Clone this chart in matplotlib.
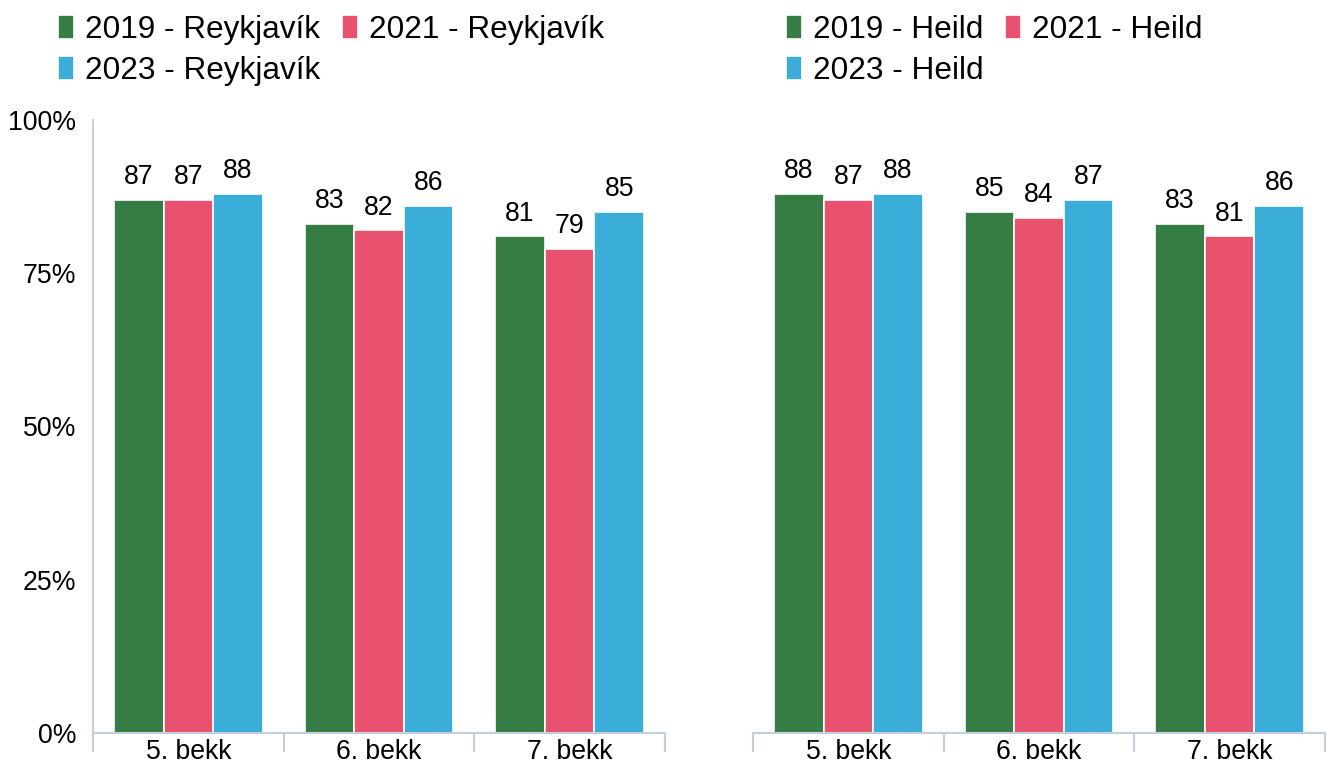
import numpy as np
import matplotlib
matplotlib.use('Agg')
import matplotlib.pyplot as plt

plt.rcParams['font.family'] = ['Liberation Sans', 'DejaVu Sans']

# data
categories = ['5. bekk', '6. bekk', '7. bekk']
years = ['2019', '2021', '2023']
reykjavik = {
    '2019': [87, 83, 81],
    '2021': [87, 82, 79],
    '2023': [88, 86, 85],
}
heild = {
    '2019': [88, 85, 83],
    '2021': [87, 84, 81],
    '2023': [88, 87, 86],
}
colors = {'2019': '#367c45', '2021': '#e9526f', '2023': '#3aaed8'}
spine_col = '#c3cfdd'

fig = plt.figure(figsize=(13.35, 7.65), dpi=100)
ax1 = fig.add_axes([93 / 1335, 1 - 733 / 765, 572 / 1335, 613 / 765])
ax2 = fig.add_axes([753 / 1335, 1 - 733 / 765, 572 / 1335, 613 / 765])

x = np.arange(len(categories))
bw = 0.26


def draw(ax, data, region, legend_x):
    handles = []
    for i, yr in enumerate(years):
        bars = ax.bar(x + (i - 1) * bw, data[yr], bw, color=colors[yr],
                      edgecolor='white', linewidth=1.2,
                      label=f'{yr} - {region}')
        ax.bar_label(bars, padding=7, fontsize=19.2)
        handles.append(bars)
    ax.set_xlim(-0.5, len(categories) - 0.5)
    ax.set_ylim(0, 100)
    ax.set_xticks(x)
    ax.set_xticklabels(categories, fontsize=19.2)
    ax.set_xticks(np.arange(len(categories) + 1) - 0.5, minor=True)
    ax.tick_params(axis='x', which='major', length=0, pad=4)
    ax.tick_params(axis='x', which='minor', length=14, width=1.5,
                   color=spine_col, direction='out')
    for s in ['top', 'right']:
        ax.spines[s].set_visible(False)
    ax.spines['bottom'].set_color(spine_col)
    ax.spines['bottom'].set_linewidth(1.5)
    ax.spines['left'].set_color(spine_col)
    ax.spines['left'].set_linewidth(1.5)
    # row-major order: 2019, 2021 on first row, 2023 below
    order = [handles[0], handles[2], handles[1]]
    fig.legend(order, [h.get_label() for h in order], loc='upper left',
               bbox_to_anchor=(legend_x / 1335, 1 - 15 / 765), ncol=2,
               frameon=False, fontsize=22.7, borderpad=0, borderaxespad=0,
               handlelength=0.5, handleheight=0.78, handletextpad=0.35,
               columnspacing=0.7, labelspacing=0.35)


draw(ax1, reykjavik, 'Reykjavík', 58)
draw(ax2, heild, 'Heild', 786)

ax1.set_yticks([0, 25, 50, 75, 100])
ax1.set_yticklabels(['0%', '25%', '50%', '75%', '100%'], fontsize=19.2)
ax1.tick_params(axis='y', length=0, pad=12)

ax2.spines['left'].set_visible(False)
ax2.set_yticks([])

fig.savefig('out.png', dpi=100)
